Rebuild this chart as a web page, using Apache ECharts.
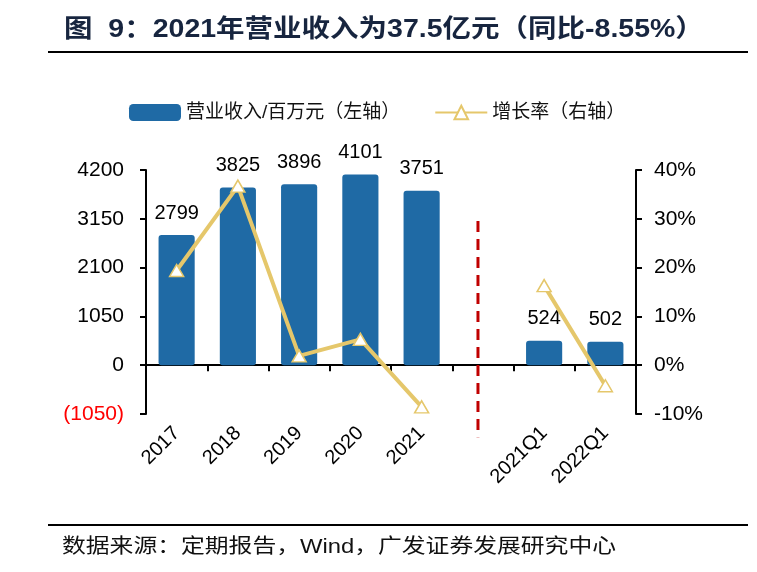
<!DOCTYPE html>
<html>
<head>
<meta charset="utf-8">
<script src="https://cdn.jsdelivr.net/npm/echarts@6/dist/echarts.min.js"></script>
<style>
html,body{margin:0;padding:0;background:#fff;}
#chart{width:757px;height:572px;}
</style>
</head>
<body>
<div id="chart"></div>
<script>
var categories = ['2017','2018','2019','2020','2021','','2021Q1','2022Q1'];
var revenue = [2799, 3825, 3896, 4101, 3751, null, 524, 502];
var growth = [19.4, 36.7, 1.9, 5.3, -8.55, null, 16.3, -4.2];
var leftTicks = {min: -1050, max: 4200, interval: 1050};
var rightTicks = {min: -10, max: 40, interval: 10};
var divider = [[5, 3100, -1550]];

var FONT = '"Liberation Sans", Arial, "Noto Sans CJK SC", sans-serif';
var chart = echarts.init(document.getElementById('chart'));
var option = {
  backgroundColor: '#fff',
  textStyle: {fontFamily: FONT},
  graphic: [
    {type: 'text', left: 64, top: 18, scaleX: 1.14,
      style: {text: '图  9：2021年营业收入为37.5亿元（同比-8.55%）', font: 'bold 25px ' + FONT, fill: '#17253f'}},
    {type: 'line', shape: {x1: 48, y1: 52, x2: 748, y2: 52}, style: {stroke: '#000', lineWidth: 2}},
    {type: 'line', shape: {x1: 48, y1: 525, x2: 748, y2: 525}, style: {stroke: '#000', lineWidth: 2}},
    {type: 'text', left: 62, top: 537, scaleX: 1.19,
      style: {text: '数据来源：定期报告，Wind，广发证券发展研究中心', font: '20px ' + FONT, fill: '#111'}}
  ],
  legend: {
    left: 124, top: 98, itemWidth: 52, itemHeight: 17, itemGap: 34,
    textStyle: {fontSize: 19, color: '#111', fontFamily: FONT},
    data: [
      {name: '营业收入/百万元（左轴）', icon: 'roundRect'},
      {name: '增长率（右轴）'}
    ]
  },
  grid: {left: 146, right: 121, top: 170, bottom: 158},
  xAxis: [
    {type: 'category', data: categories, boundaryGap: true,
      axisLine: {onZero: true, lineStyle: {color: '#000', width: 2}},
      axisTick: {show: true, length: 6, lineStyle: {color: '#000', width: 2}},
      axisLabel: {show: false}, splitLine: {show: false}},
    {type: 'category', data: categories, position: 'bottom', boundaryGap: true,
      axisLine: {show: false, onZero: false}, axisTick: {show: false},
      axisLabel: {rotate: 45, fontSize: 20, color: '#000', margin: 16, interval: 0}}
  ],
  yAxis: [
    {type: 'value', min: leftTicks.min, max: leftTicks.max, interval: leftTicks.interval,
      axisLine: {show: true, lineStyle: {color: '#000', width: 2}},
      axisTick: {show: true, length: 6, lineStyle: {color: '#000', width: 2}},
      splitLine: {show: false},
      axisLabel: {fontSize: 21, color: '#000', margin: 22,
        formatter: function (v) { return v < 0 ? '{neg|(' + (-v) + ')}' : String(v); },
        rich: {neg: {color: '#ff0000', fontSize: 21}}}},
    {type: 'value', min: rightTicks.min, max: rightTicks.max, interval: rightTicks.interval,
      axisLine: {show: true, lineStyle: {color: '#000', width: 2}},
      axisTick: {show: true, length: 6, lineStyle: {color: '#000', width: 2}},
      splitLine: {show: false},
      axisLabel: {fontSize: 21, color: '#000', margin: 18, formatter: '{value}%'}}
  ],
  series: [
    {name: '营业收入/百万元（左轴）', type: 'bar', data: revenue, barWidth: '59%',
      xAxisIndex: 0, yAxisIndex: 0,
      itemStyle: {color: '#1f6aa5', borderRadius: 3},
      label: {show: true, position: 'top', distance: 12, fontSize: 20, color: '#000'}},
    {name: '增长率（右轴）', type: 'line', data: growth, xAxisIndex: 0, yAxisIndex: 1,
      connectNulls: false, symbol: 'triangle', symbolSize: [14, 12],
      lineStyle: {color: '#e5c76b', width: 4},
      itemStyle: {color: '#fff', borderColor: '#e5c76b', borderWidth: 1.5},
      z: 3},
    {name: 'divider', type: 'custom', xAxisIndex: 0, yAxisIndex: 0, data: divider, silent: true,
      clip: false, z: 4,
      renderItem: function (params, api) {
        var p1 = api.coord([api.value(0), api.value(1)]);
        var p2 = api.coord([api.value(0), api.value(2)]);
        var dx = -api.size([1, 0])[0] * 0.08;
        return {type: 'line', shape: {x1: p1[0] + dx, y1: p1[1], x2: p2[0] + dx, y2: p2[1]},
          style: {stroke: '#c00000', lineWidth: 3, lineDash: [11, 7]}};
      }}
  ]
};
chart.setOption(option);
</script>
</body>
</html>
